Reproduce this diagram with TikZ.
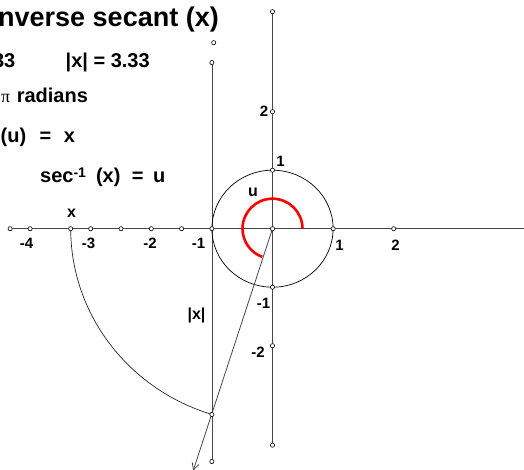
\documentclass[tikz,border=0pt]{standalone}
\usepackage{fontspec}
\setmainfont{Liberation Sans}
\newfontfamily\serifpi{Liberation Serif}
\usetikzlibrary{arrows.meta}
\begin{document}
\begin{tikzpicture}[x=1pt,y=-1pt,
  ln/.style={draw=black!72, line width=0.8pt},
  dot/.style={circle, draw=black, fill=white, inner sep=0pt, minimum size=4.2pt, line width=0.6pt},
  txt/.style={inner sep=0pt, font=\bfseries\fontsize{20}{24}\selectfont},
  ttl/.style={inner sep=0pt, font=\bfseries\fontsize{27}{32}\selectfont},
  lab/.style={inner sep=0pt, font=\bfseries\fontsize{16}{19}\selectfont},
  num/.style={inner sep=0pt, font=\bfseries\fontsize{15}{18}\selectfont}]
\useasboundingbox (0,0) rectangle (524,470);
\clip (0,0) rectangle (524,470);

\begin{scope}[shift={(272.5,228.7)}, x=60.6pt, y=58.5pt]
  % points
  \coordinate (O) at (0,0);
  \coordinate (XL) at (-4.33,0);
  \coordinate (XR) at (4.4,0);
  \coordinate (Xm4) at (-4,0);
  \coordinate (Xp) at (-3.33,0);
  \coordinate (Xm3) at (-3,0);
  \coordinate (Xm25) at (-2.5,0);
  \coordinate (Xm2) at (-2,0);
  \coordinate (Xm15) at (-1.5,0);
  \coordinate (Xm1) at (-1,0);
  \coordinate (X1) at (1,0);
  \coordinate (X2) at (2,0);
  \coordinate (YT) at (0,3.71);
  \coordinate (Y2) at (0,2);
  \coordinate (Y1) at (0,1);
  \coordinate (Ym1) at (0,-1);
  \coordinate (Ym2) at (0,-2);
  \coordinate (YB) at (0,-3.70);
  \coordinate (VT) at (-1,2.84);
  \coordinate (VB) at (-1,-3.98);
  \coordinate (VI) at (-1,-3.176);
  \coordinate (Q) at (-0.97,3.18);
  \coordinate (TIP) at (-1.31,-4.14);
  \coordinate (R0) at (30pt,0pt);
  % lines
  \draw[ln] (XL) -- (XR);
  \draw[ln] (YB) -- (YT);
  \draw[ln] (VB) -- (VT);
  \draw[black, line width=0.7pt] (O) circle [x radius=1, y radius=1];
  \draw[black!85, line width=0.7pt] (Xp) arc [start angle=180, end angle=252.54, x radius=3.33, y radius=3.33];
  \draw[red, line width=2.6pt] (R0) arc [start angle=0, end angle=250, radius=30pt];
  \draw[ln, -{Straight Barb[length=7pt,width=7pt]}] (O) -- (TIP);
  % dots
  \foreach \p in {XL,Xm4,Xp,Xm3,Xm25,Xm2,Xm15,Xm1,O,X1,X2,YT,Y2,Y1,Ym1,Ym2,YB,VT,VB,VI,Q}
    \node[dot] (d\p) at (\p) {};
\end{scope}

% texts
\node[ttl, anchor=base west] (title) at (-2,27) {nverse secant (x)};
\node[txt, anchor=base east] (t33) at (15.5,68) {33};
\node[txt, anchor=base west] (tabs) at (65.5,68) {|x| = 3.33};
\node[txt, anchor=base west] (trad) at (1,103) {{\mdseries\serifpi\fontsize{18}{20}\selectfont π}\hspace{6.5pt}radians};
\node[txt, anchor=base west] (tsec) at (0.5,143) {(u)\hspace{13.5pt}=\hspace{12.5pt}x};
\node[txt, anchor=base west] (tinv) at (40,182.5) {sec\raisebox{5pt}{\fontsize{14}{16}\selectfont -1}\hspace{10pt}(x)\hspace{11.5pt}=\hspace{9.5pt}u};

\node[lab, anchor=base] (lx) at (71.5,218) {x};
\node[lab, anchor=base] (lu) at (253,197) {u};
\node[lab, anchor=base] (labs) at (196.5,319) {|x|};

\node[num, anchor=base] (nm4) at (26.5,248.5) {-4};
\node[num, anchor=base] (nm3) at (88.5,248.5) {-3};
\node[num, anchor=base] (nm2) at (150,248.5) {-2};
\node[num, anchor=base] (nm1) at (198.5,248.5) {-1};
\node[num, anchor=base] (np1) at (339.5,250.5) {1};
\node[num, anchor=base] (np2) at (395.5,250.5) {2};
\node[num, anchor=base] (ny2) at (264,117) {2};
\node[num, anchor=base] (ny1) at (280.5,167) {1};
\node[num, anchor=base] (nym1) at (263.5,308) {-1};
\node[num, anchor=base] (nym2) at (258,357) {-2};
\end{tikzpicture}
\end{document}
